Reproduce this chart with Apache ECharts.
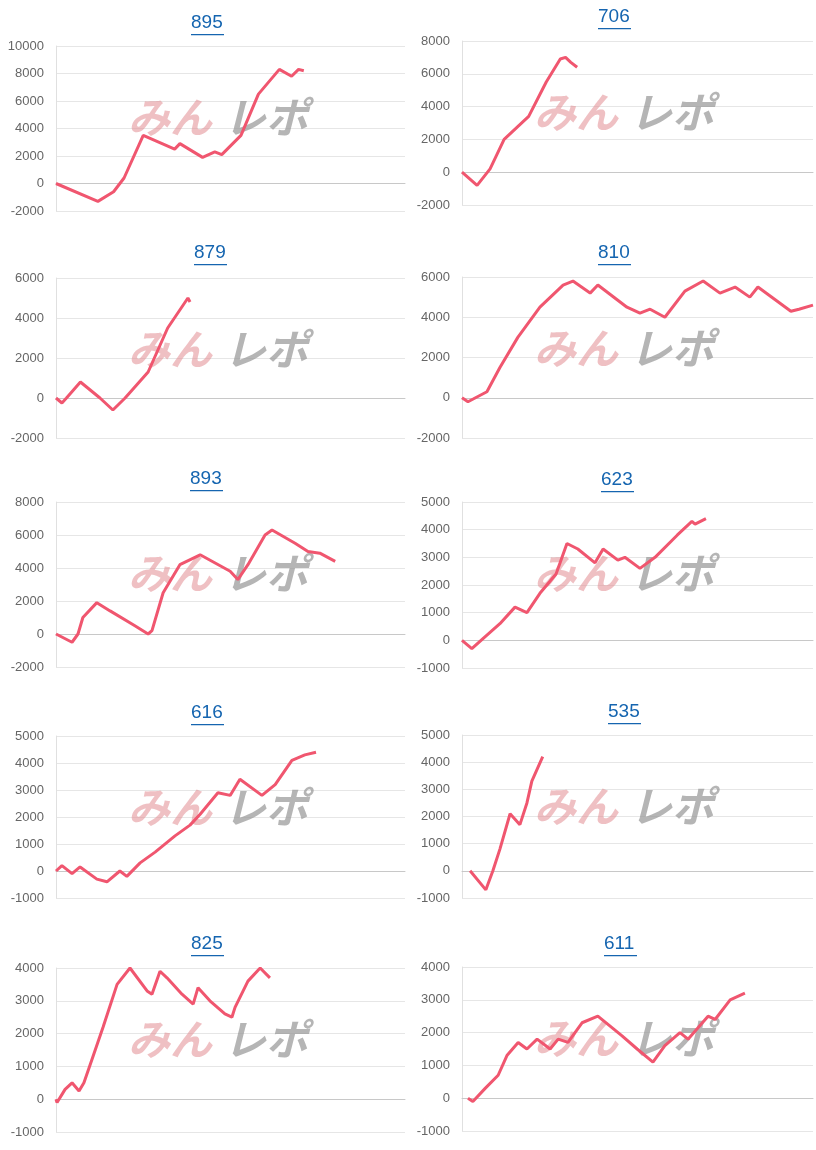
<!DOCTYPE html>
<html><head><meta charset="utf-8">
<script src="https://cdn.jsdelivr.net/npm/echarts@6/dist/echarts.min.js"></script>
<style>html,body{margin:0;padding:0;background:#fff}#c{width:816px;height:1150px}</style>
</head><body><div id="c"></div>
<script>
const titles = ['895','706','879','810','893','623','616','535','825','611'];
const yMin = [-2000,-2000,-2000,-2000,-2000,-1000,-1000,-1000,-1000,-1000];
const yMax = [10000,8000,6000,6000,8000,5000,5000,5000,4000,4000];
const yStep = [2000,2000,2000,2000,2000,1000,1000,1000,1000,1000];
// x: percent of total games axis, y: difference coins
const s895 = [[0,0],[12,-1300],[16.5,-600],[19.5,400],[25,3500],[34,2500],[35.5,2900],[42,1900],[45.5,2300],[47.5,2100],[53,3500],[58,6500],[64,8300],[67.5,7800],[69.5,8300],[71,8200]];
const s706 = [[0,0],[4.3,-800],[8,200],[12,2000],[19,3400],[24,5500],[28,6900],[29.5,7000],[31,6700],[32.8,6400]];
const s879 = [[0,0],[1.7,-250],[3,0],[7,800],[12.6,0],[16.3,-600],[19.8,0],[26.4,1300],[32,3500],[37.8,5000],[38,5100],[38.4,4800]];
const s810 = [[0,0],[1.7,-200],[7.1,300],[10.8,1500],[15.9,3000],[22.2,4500],[28.8,5600],[31.6,5800],[36.5,5200],[38.7,5600],[47,4500],[50.7,4200],[53.6,4400],[57.8,4000],[63.5,5300],[68.7,5800],[73.5,5200],[77.8,5500],[82,5000],[84.3,5500],[93.7,4300],[96,4400],[100,4600]];
const s893 = [[0,0],[4.6,-500],[6.3,0],[7.7,1000],[11.7,1900],[15.5,1400],[22.6,500],[26.4,0],[27.5,200],[30.7,2500],[35.5,4200],[41.3,4800],[49.9,3800],[52.1,3300],[55,4200],[59.9,6000],[61.9,6300],[68.5,5500],[72.2,5000],[75.6,4900],[80,4400]];
const s623 = [[0,0],[2.8,-300],[6.3,100],[10.8,600],[15.1,1200],[18.5,1000],[22.2,1700],[26.8,2400],[29.9,3500],[33,3300],[37.9,2800],[40.2,3300],[44.4,2900],[46.4,3000],[50.7,2600],[55,3000],[61.3,3800],[65.5,4300],[66.4,4200],[69.5,4400]];
const s616 = [[0,0],[1.7,200],[4.6,-100],[6.9,150],[11.7,-300],[14.6,-400],[18.3,0],[20.3,-200],[24.1,300],[28.4,700],[34.1,1300],[38.4,1700],[41.3,2100],[46.4,2900],[49.9,2800],[52.7,3400],[59,2800],[62.8,3200],[67.6,4100],[71.3,4300],[74.5,4400]];
const s535 = [[2.3,0],[6.8,-700],[8.8,0],[10.8,800],[13.7,2100],[16.5,1700],[18.5,2500],[19.9,3300],[23,4200]];
const s825 = [[0,0],[0.3,-100],[2.6,300],[4.6,500],[6.6,250],[8,500],[10.6,1300],[13.5,2200],[17.5,3500],[21.2,4000],[26.1,3300],[27.5,3200],[29.8,3900],[31.8,3700],[36.1,3200],[39.3,2900],[40.7,3400],[44.1,3000],[48.4,2600],[50.4,2500],[51.3,2800],[55,3600],[58.5,4000],[61.3,3700]];
const s611 = [[1.7,0],[3.1,-100],[6.6,300],[10.3,700],[12.8,1300],[16,1700],[18.5,1500],[21.4,1800],[25.1,1500],[27.4,1800],[30.2,1700],[34.2,2300],[38.7,2500],[45.6,1900],[49.9,1500],[54.4,1100],[57.8,1600],[62.1,2000],[64.4,1800],[70.1,2500],[72.1,2400],[76.4,3000],[80.6,3200]];
const seriesData = [s895,s706,s879,s810,s893,s623,s616,s535,s825,s611];

const tops = [46,41,278,277,502,502,736,735,968,967];
const bots = [211,205,438,438,667,668,898,898,1132,1131];
const titlePos = [[208,25],[615,19],[211,255],[615,255],[207,481],[618,482],[208,715],[625,714],[208,946],[621,946]];

const grids=[],xAxes=[],yAxes=[],series=[],graphics=[];
for(let i=0;i<10;i++){
  const left = i%2===0 ? 56 : 462;
  const width = i%2===0 ? 349 : 351;
  grids.push({left:left,top:tops[i],width:width,height:bots[i]-tops[i]});
  xAxes.push({gridIndex:i,type:'value',min:0,max:100,axisLabel:{show:false},axisTick:{show:false},splitLine:{show:false},
    axisLine:{show:true,onZero:true,lineStyle:{color:'#c8c8c8'}}});
  yAxes.push({gridIndex:i,type:'value',min:yMin[i],max:yMax[i],interval:yStep[i],
    axisLine:{show:true,lineStyle:{color:'#e0e0e0'}},axisTick:{show:false},
    axisLabel:{color:'#666',fontSize:13,fontFamily:'Arial, Liberation Sans',margin:12,formatter:v=>String(v)},
    splitLine:{lineStyle:{color:'#e6e6e6'}}});
  series.push({type:'line',xAxisIndex:i,yAxisIndex:i,data:seriesData[i],showSymbol:false,
    lineStyle:{color:'#f0566f',width:3},z:3});
  const [tx,ty]=titlePos[i];
  graphics.push({type:'text',left:tx-17,top:ty-12,style:{text:titles[i],fill:'#1565b0',font:'19px Arial, Liberation Sans'},z:10});
  graphics.push({type:'rect',shape:{x:tx-17,y:ty+9,width:33,height:1.3},style:{fill:'#1565b0'},z:10});
  const wx = left+72, wy = tops[i]+50;
  graphics.push({type:'text',x:wx,y:wy,style:{text:'みん',fill:'rgba(225,140,145,0.55)',font:'italic bold 42px "Noto Sans CJK JP"'},z:1});
  graphics.push({type:'text',x:wx+96,y:wy,style:{text:'レポ',fill:'rgba(150,150,150,0.7)',font:'italic bold 42px "Noto Sans CJK JP"'},z:1});
}
const chart = echarts.init(document.getElementById('c'));
chart.setOption({animation:false,grid:grids,xAxis:xAxes,yAxis:yAxes,series:series,graphic:graphics});
</script></body></html>
